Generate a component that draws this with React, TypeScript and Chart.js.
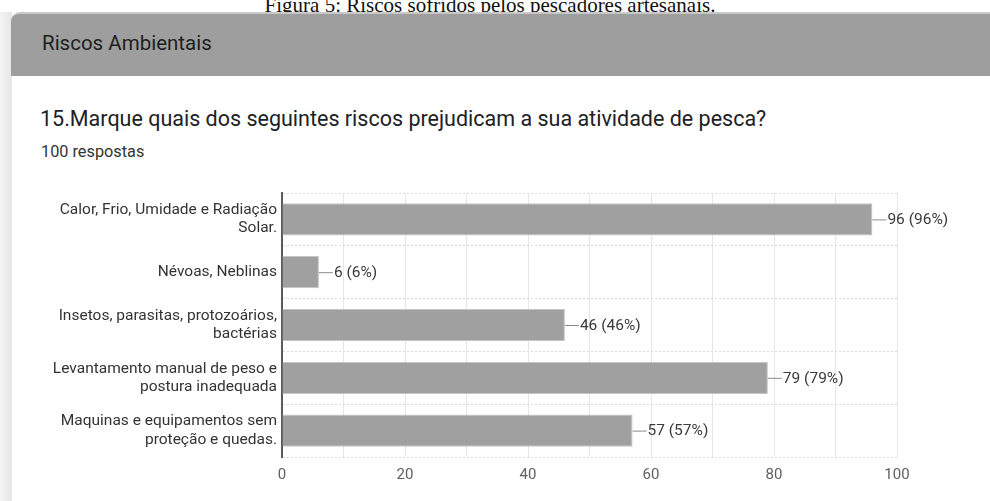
import React, { useEffect, useRef } from "react";
import { Chart, registerables } from "chart.js";

Chart.register(...registerables);

const caption = "Figura 5: Riscos sofridos pelos pescadores artesanais.";
const sectionTitle = "Riscos Ambientais";
const question = "15.Marque quais dos seguintes riscos prejudicam a sua atividade de pesca?";
const totalResponses = 100;
const responsesLabel = "100 respostas";

const categories: string[][] = [
  ["Calor, Frio, Umidade e Radiação", "Solar."],
  ["Névoas, Neblinas"],
  ["Insetos, parasitas, protozoários,", "bactérias"],
  ["Levantamento manual de peso e", "postura inadequada"],
  ["Maquinas e equipamentos sem", "proteção e quedas."],
];
const counts: number[] = [96, 6, 46, 79, 57];
const xTickLabels: number[] = [0, 20, 40, 60, 80, 100];

const FONT = "Roboto, 'Noto Sans', Arial, sans-serif";

const valueLabelPlugin = {
  id: "valueLabels",
  afterDatasetsDraw(chart: any) {
    const ctx = chart.ctx;
    const meta = chart.getDatasetMeta(0);
    ctx.save();
    ctx.font = `15.5px ${FONT}`;
    ctx.textBaseline = "middle";
    ctx.textAlign = "left";
    meta.data.forEach((bar: any, i: number) => {
      const v = counts[i];
      const x = bar.x;
      const y = bar.y;
      ctx.strokeStyle = "#8a8a8a";
      ctx.lineWidth = 1;
      ctx.beginPath();
      ctx.moveTo(x, y + 0.5);
      ctx.lineTo(x + 14, y + 0.5);
      ctx.stroke();
      ctx.fillStyle = "#3a3a3a";
      const pct = Math.round((v / totalResponses) * 100);
      ctx.fillText(`${v} (${pct}%)`, x + 15, y + 1);
    });
    ctx.restore();
  },
};

function BarChart() {
  const ref = useRef<HTMLCanvasElement | null>(null);
  useEffect(() => {
    if (!ref.current) return;
    const chart = new Chart(ref.current, {
      type: "bar",
      data: {
        labels: categories as any,
        datasets: [
          {
            data: counts,
            backgroundColor: "#a0a0a0",
            borderColor: "#c4c4c4",
            borderWidth: 1,
            barPercentage: 0.61,
            categoryPercentage: 1,
          },
        ],
      },
      options: {
        indexAxis: "y",
        animation: false,
        responsive: false,
        maintainAspectRatio: false,
        layout: { padding: { left: 0, right: 93, top: 13, bottom: 3 } },
        plugins: { legend: { display: false }, tooltip: { enabled: false } },
        scales: {
          x: {
            min: 0,
            max: 100,
            afterFit: (s: any) => {
              s.height = 30;
              s.paddingLeft = 0;
              s.paddingRight = 0;
            },
            border: { display: false },
            grid: { color: "#e6e6e6", lineWidth: 1, drawTicks: false },
            ticks: {
              stepSize: 10,
              autoSkip: false,
              maxRotation: 0,
              padding: 9,
              color: "#5f5f5f",
              font: { family: FONT, size: 15 },
              callback: (v: any) => (xTickLabels.includes(Number(v)) ? String(v) : ""),
            },
          },
          y: {
            afterFit: (s: any) => {
              s.width = 270;
              s.paddingTop = 0;
              s.paddingBottom = 0;
            },
            border: { display: true, color: "#5a5a5a", width: 2, dash: [2, 2] },
            grid: {
              color: "#dcdcdc",
              lineWidth: 1,
              drawTicks: false,
              offset: true,
            } as any,
            ticks: {
              padding: 5,
              color: "#333333",
              font: { family: FONT, size: 15.5, lineHeight: 1.17 },
            },
          },
        },
      },
      plugins: [valueLabelPlugin],
    });
    return () => chart.destroy();
  }, []);
  return (
    <canvas
      ref={ref}
      width={978}
      height={310}
      style={{ position: "absolute", left: 12, top: 180, width: 978, height: 310 }}
    />
  );
}

export default function App() {
  return (
    <div
      style={{
        position: "absolute",
        left: 0,
        top: 0,
        width: 990,
        height: 501,
        overflow: "hidden",
        background: "#ffffff",
        fontFamily: FONT,
      }}
    >
      <div
        style={{
          position: "absolute",
          left: 0,
          top: -7,
          width: 980,
          textAlign: "center",
          fontFamily: "'Liberation Serif', 'Times New Roman', serif",
          fontSize: 21,
          color: "#111",
          whiteSpace: "nowrap",
        }}
      >
        {caption}
      </div>
      <div
        style={{
          position: "absolute",
          left: 0,
          top: 12,
          width: 12,
          height: 489,
          background: "linear-gradient(to right, #f4f4f4, #e6e6e6)",
        }}
      />
      <div
        style={{
          position: "absolute",
          left: 11,
          top: 12,
          width: 979,
          height: 64,
          background: "#9e9e9e",
          borderTop: "2px solid #c8c8c8",
          boxSizing: "border-box",
          borderTopLeftRadius: 9,
        }}
      />
      <div
        style={{
          position: "absolute",
          left: 42,
          top: 31,
          fontSize: 20.5,
          color: "#1f1f1f",
          whiteSpace: "nowrap",
        }}
      >
        {sectionTitle}
      </div>
      <div
        style={{
          position: "absolute",
          left: 40,
          top: 106,
          fontSize: 21.5,
          color: "#202124",
          whiteSpace: "nowrap",
        }}
      >
        {question}
      </div>
      <div
        style={{
          position: "absolute",
          left: 41,
          top: 142,
          fontSize: 16.3,
          color: "#333",
          whiteSpace: "nowrap",
        }}
      >
        {responsesLabel}
      </div>
      <BarChart />
    </div>
  );
}
